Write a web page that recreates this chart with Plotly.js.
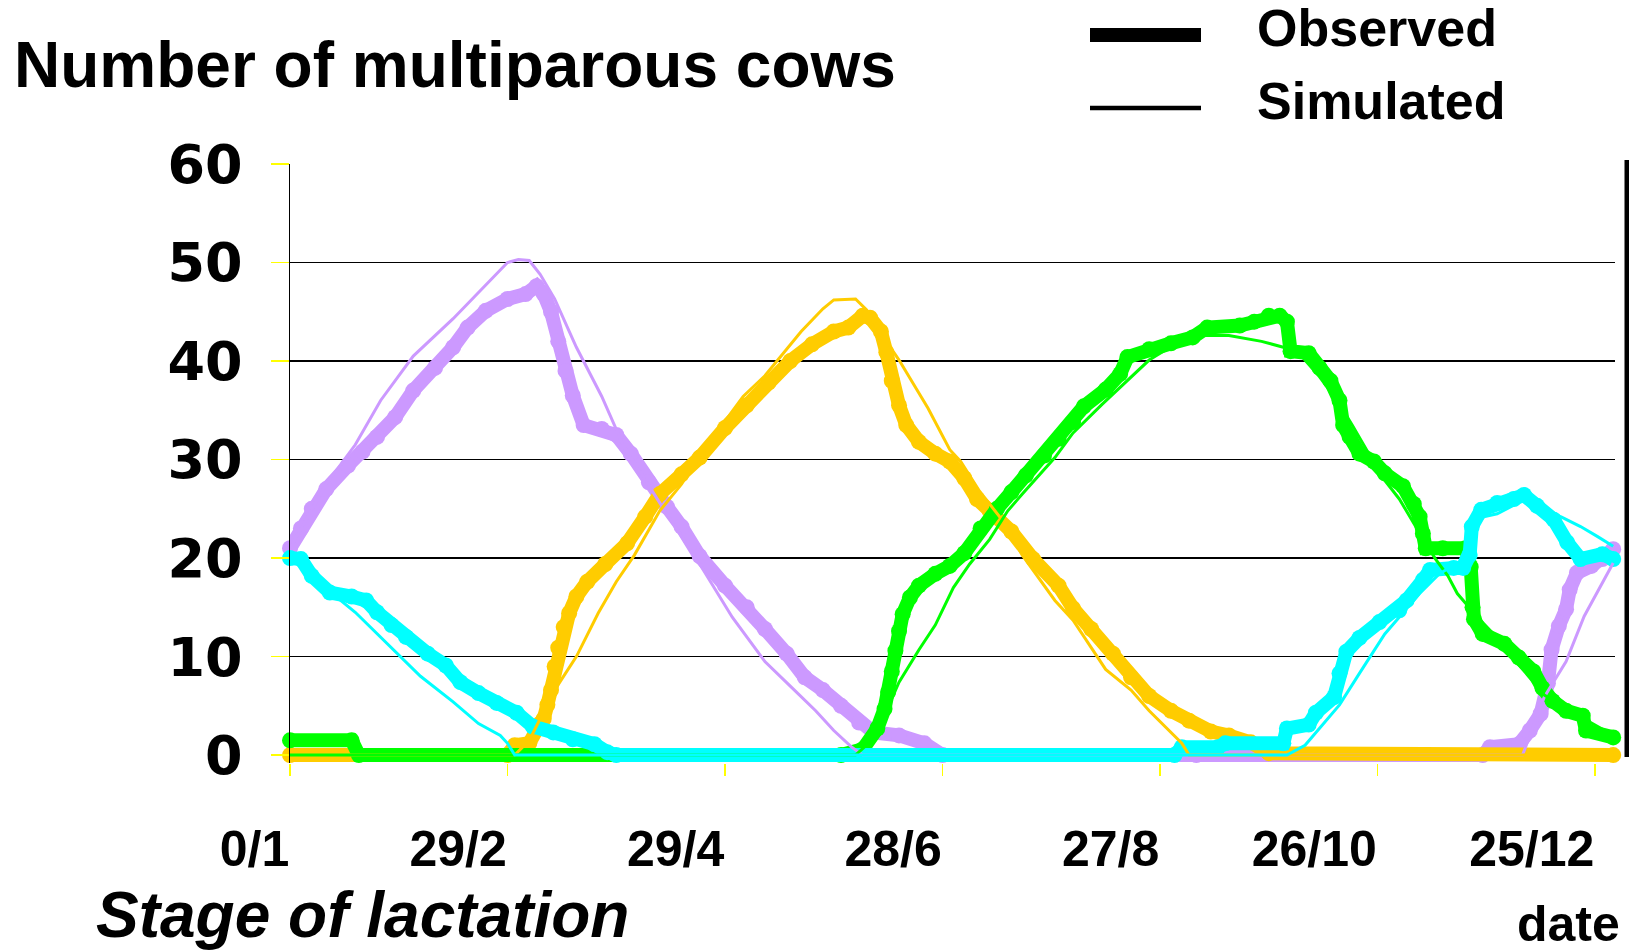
<!DOCTYPE html>
<html>
<head>
<meta charset="utf-8">
<script src="https://cdn.plot.ly/plotly-3.0.1.min.js"></script>
<style>
  html, body { margin: 0; padding: 0; background: #fff; }
  #chart { width: 1629px; height: 952px; }
</style>
</head>
<body>
<div id="chart"></div>
<script>
// ---------- tick labels ----------
const tickDays = [0, 60, 120, 180, 240, 300, 360];
const tickLabels = ['0/1', '29/2', '29/4', '28/6', '27/8', '26/10', '25/12'];

// ---------- observed (thick, dotted) ----------
const earlyObsDay = [0, 3, 6, 10, 16, 20, 24, 29, 34, 40, 45, 49, 54, 60, 65, 68, 70, 72, 74, 76, 78, 81, 86, 90, 94, 99, 104, 108, 113, 120, 126, 131, 137, 142, 147, 152, 157, 161, 168, 175, 180, 250, 329, 331, 339, 342, 345, 347, 348, 350, 352, 353, 355, 359, 362, 365];
const earlyObsVal = [21, 23, 25, 27, 29.4, 30.8, 32.3, 34.3, 37, 39.3, 41.4, 43.4, 45.1, 46.3, 46.8, 47.6, 46.8, 45, 42, 39, 36.5, 33.5, 33.1, 32.5, 30.6, 27.7, 25.2, 23.2, 20.2, 17.2, 15, 12.8, 10.3, 7.9, 6.6, 5, 3.3, 2.3, 2, 1.2, 0, 0, 0, 0.8, 1.1, 2.5, 4.2, 7.3, 10.7, 13.1, 14.8, 16.8, 18.5, 19.2, 19.9, 20.9];

const midObsDay = [0, 60, 62, 66, 69, 70, 71, 72, 73, 74, 75.5, 77, 79, 82, 87, 93, 98, 102, 108, 113, 120, 126, 132, 138, 144, 150, 154, 158, 160, 163, 164.5, 166, 168, 170, 173.5, 178, 182, 186, 189.5, 193, 199, 205, 212, 216, 221, 227, 232, 237, 243, 248, 254, 259, 265, 270, 365];
const midObsVal = [0, 0, 1, 1.2, 3.2, 3.7, 5.1, 6.6, 9, 10.9, 13, 14.4, 16.1, 17.6, 19.4, 21.5, 24.2, 26.5, 28.5, 30.2, 33.2, 35.5, 37.8, 40, 41.7, 43, 43.4, 44.6, 44.4, 43, 40.9, 38, 35.5, 33.5, 31.8, 30.6, 29.8, 28.1, 26, 24.8, 22.7, 19.9, 17.2, 14.9, 12.8, 10.3, 7.9, 6, 4.5, 3.5, 2.4, 2, 1.3, 0.2, 0];

const lateObsDay = [0, 17, 19, 152, 158, 162, 164, 165, 166, 167, 168, 169, 171, 173.5, 178, 182, 186, 190.5, 195, 199, 203, 208, 212, 216, 219, 225, 229, 231, 237, 243, 249, 253, 262, 266, 270, 273, 275, 276, 281, 284, 287, 289.5, 290.5, 292.3, 295, 299, 302, 307, 310, 311.6, 312.5, 313.3, 318, 324.3, 325.7, 326.2, 326.6, 329, 335, 339, 343, 345.5, 348.3, 352, 356.6, 357.5, 365];
const lateObsVal = [1.5, 1.5, 0, 0, 0.6, 2.7, 4.7, 6.4, 8.5, 10.6, 12.6, 14.3, 16, 17.2, 18.4, 19.2, 20.5, 23, 25, 26.7, 28.4, 30.4, 32.1, 33.8, 35.4, 37.1, 38.7, 40.4, 41.2, 41.8, 42.4, 43.4, 43.6, 44, 44.6, 44.6, 44, 41, 40.8, 39.3, 38, 36, 33.5, 32.3, 30.6, 29.8, 28.6, 27.3, 25.5, 24.2, 22.5, 21, 21, 21, 19.1, 15, 13.8, 12.3, 11.3, 9.9, 8.5, 6.8, 5.5, 4.5, 4, 2.5, 1.8];

const dryObsDay = [0, 3, 6, 11, 17, 21, 24, 28, 32, 38, 43, 47, 52, 57, 62.5, 67, 72.6, 78, 84, 87.5, 90, 244, 246, 256, 258, 274, 275, 281, 283, 288, 289.5, 291.4, 295, 300.5, 306, 308, 312.6, 314.5, 321, 323.6, 325.4, 326, 328.6, 333, 337.6, 340.4, 344, 348.6, 352.3, 356, 362, 365];
const dryObsVal = [20, 19.9, 18.2, 16.5, 16.1, 15.7, 14.5, 13.2, 12, 10.3, 9.1, 7.4, 6.3, 5.3, 4.3, 2.9, 2.3, 1.6, 1.1, 0.3, 0, 0, 0.8, 0.8, 1.2, 1.2, 2.7, 3.1, 4.3, 5.9, 8.3, 10.5, 11.9, 13.5, 14.7, 15.7, 17.8, 18.8, 19, 19, 20.3, 23.2, 24.9, 25.6, 26, 26.4, 25.3, 23.9, 21.6, 19.9, 20.4, 19.9];

// ---------- simulated (thin lines) ----------
const earlySimDay = [0, 10, 18, 25, 34, 45, 60, 63, 66, 69, 73, 79, 86, 92, 102, 113, 122, 131, 138, 145, 150, 155, 158, 340, 346, 352, 357, 365];
const earlySimVal = [21, 27.5, 31.5, 36, 40.5, 44.3, 50, 50.3, 50.2, 48.8, 46.3, 41.4, 36.4, 31.4, 25.6, 19.4, 14, 9.5, 7, 4.5, 2.5, 0.8, 0, 0, 5.9, 9.5, 14.1, 19.5];

const midSimDay = [0, 62, 66, 70, 73, 79, 85, 90, 95, 102, 108, 115, 125, 131, 141, 147, 150, 156, 159, 163, 168, 176, 182, 185, 190, 197, 202, 211, 216, 225, 232, 237, 243, 246, 248, 365];
const midSimVal = [0, 0, 1.5, 4.5, 6.6, 10, 14.4, 17.6, 20.3, 24.8, 27.5, 31.4, 36.4, 38.5, 43, 45.3, 46.2, 46.3, 45.2, 42.8, 40.1, 35.2, 31, 29.8, 26.9, 23.6, 20.3, 15.7, 13.7, 8.7, 6.6, 4.5, 2.3, 1.2, 0, 0];

const lateSimDay = [0, 156, 162, 165, 168, 173.5, 178, 183, 187.5, 193, 198, 202, 211, 216, 224, 231, 237, 248, 259, 268, 275, 279, 284, 289, 293, 301.5, 306, 312, 316, 319.4, 322, 327.6, 332, 339.6, 346, 355, 365];
const lateSimVal = [0, 0, 2, 4.9, 7.4, 10.7, 13.2, 17, 19.4, 21.9, 24.8, 26.5, 30.2, 32.7, 35.6, 38, 40.1, 42.6, 42.6, 42, 41.3, 40.5, 38.4, 35.9, 33.5, 28.1, 26, 22.3, 19.9, 18.2, 16.4, 14, 12.3, 8.9, 6.1, 4.1, 2];

const drySimDay = [0, 8, 18, 27, 36, 45, 52, 58, 60, 62, 275, 280, 284, 289.5, 295, 302, 311.6, 317, 322.5, 326.6, 329.3, 333, 340.4, 345, 350.5, 356, 360.6, 365];
const drySimVal = [20.3, 17.5, 14.5, 11.3, 8, 5.4, 3.2, 2, 1.2, 0, 0, 1, 2.7, 5.1, 8.3, 12.3, 16.4, 18.4, 19.6, 22.9, 24.2, 24.5, 25.9, 25.3, 24.2, 23.2, 22.2, 21.2];

// ---------- styles ----------
const colEarly = '#CC99FF', colMid = '#FFCC00', colLate = '#00FF00', colDry = '#00FFFF';
const FONT = 'Liberation Sans, Arial, sans-serif';
const WIDEFONT = 'DejaVu Sans, Verdana, sans-serif';

function obs(x, y, c, name) {
  return { x: x, y: y, name: name, type: 'scatter', mode: 'lines+markers',
    line: { color: c, width: 14, shape: 'linear' },
    marker: { color: c, size: 16, line: { width: 0 } },
    cliponaxis: false, showlegend: false, hoverinfo: 'skip' };
}
function sim(x, y, c, name) {
  return { x: x, y: y, name: name, type: 'scatter', mode: 'lines',
    line: { color: c, width: 3 }, cliponaxis: false, showlegend: false, hoverinfo: 'skip' };
}

const traces = [
  obs(earlyObsDay, earlyObsVal, colEarly, 'Early obs'),
  obs(midObsDay, midObsVal, colMid, 'Mid obs'),
  obs(lateObsDay, lateObsVal, colLate, 'Late obs'),
  obs(dryObsDay, dryObsVal, colDry, 'Dry obs'),
  sim(earlySimDay, earlySimVal, colEarly, 'Early sim'),
  sim(midSimDay, midSimVal, colMid, 'Mid sim'),
  sim(lateSimDay, lateSimVal, colLate, 'Late sim'),
  sim(drySimDay, drySimVal, colDry, 'Dry sim')
];

// plot area in pixels: x 290..1615, y 164 (value 60) .. 763 (value -0.8; value 0 at ~755)
const L = 290, R = 1615, T = 164, B = 763;
const px = v => (v - L) / (R - L);
const py = v => (B - v) / (B - T);

const layout = {
  width: 1629, height: 952,
  margin: { l: L, r: 1629 - R, t: T, b: 952 - B, pad: 0 },
  paper_bgcolor: '#fff', plot_bgcolor: '#fff',
  showlegend: false,
  font: { family: FONT, color: '#000' },
  xaxis: {
    range: [0, 365.5], tickvals: tickDays, ticktext: tickLabels,
    showgrid: false, zeroline: false, showline: false,
    ticks: 'outside', ticklen: 12, tickwidth: 1.5, tickcolor: '#FFFF00',
    ticklabelposition: 'outside left', ticklabelstandoff: 42,
    tickfont: { family: FONT, size: 50, weight: 'bold', color: '#000' },
    fixedrange: true
  },
  yaxis: {
    range: [-0.8, 60], tickvals: [0, 10, 20, 30, 40, 50, 60],
    showgrid: true, gridcolor: '#000', gridwidth: 1.3, zeroline: false,
    showline: true, linecolor: '#000', linewidth: 1.5,
    ticks: 'outside', ticklen: 18, tickwidth: 1.5, tickcolor: '#FFFF00',
    ticklabelstandoff: 17,
    tickfont: { family: WIDEFONT, size: 54, weight: 'bold', color: '#000' },
    fixedrange: true
  },
  shapes: [
    { type: 'rect', xref: 'paper', yref: 'paper', x0: px(1624.5), x1: px(1629), y0: py(757), y1: py(160),
      fillcolor: '#000', line: { width: 0 } },
    { type: 'line', xref: 'paper', yref: 'paper', x0: px(1090), x1: px(1201), y0: py(35), y1: py(35),
      line: { color: '#000', width: 14 } },
    { type: 'line', xref: 'paper', yref: 'paper', x0: px(1090), x1: px(1201), y0: py(108), y1: py(108),
      line: { color: '#000', width: 4.5 } }
  ],
  annotations: [
    { text: 'Number of multiparous cows', xref: 'paper', yref: 'paper', x: px(12), y: py(65),
      xanchor: 'left', yanchor: 'middle', showarrow: false,
      font: { family: FONT, size: 64, weight: 'bold', color: '#000' } },
    { text: 'Observed', xref: 'paper', yref: 'paper', x: px(1255), y: py(28),
      xanchor: 'left', yanchor: 'middle', showarrow: false,
      font: { family: FONT, size: 52, weight: 'bold', color: '#000' } },
    { text: 'Simulated', xref: 'paper', yref: 'paper', x: px(1255), y: py(101),
      xanchor: 'left', yanchor: 'middle', showarrow: false,
      font: { family: FONT, size: 52, weight: 'bold', color: '#000' } },
    { text: 'Stage of lactation', xref: 'paper', yref: 'paper', x: px(94), y: py(915),
      xanchor: 'left', yanchor: 'middle', showarrow: false,
      font: { family: FONT, size: 64, weight: 'bold', style: 'italic', color: '#000' } },
    { text: 'date', xref: 'paper', yref: 'paper', x: px(1622), y: py(924),
      xanchor: 'right', yanchor: 'middle', showarrow: false,
      font: { family: FONT, size: 50, weight: 'bold', color: '#000' } }
  ]
};

Plotly.newPlot('chart', traces, layout, { staticPlot: true, displayModeBar: false });
</script>
</body>
</html>
